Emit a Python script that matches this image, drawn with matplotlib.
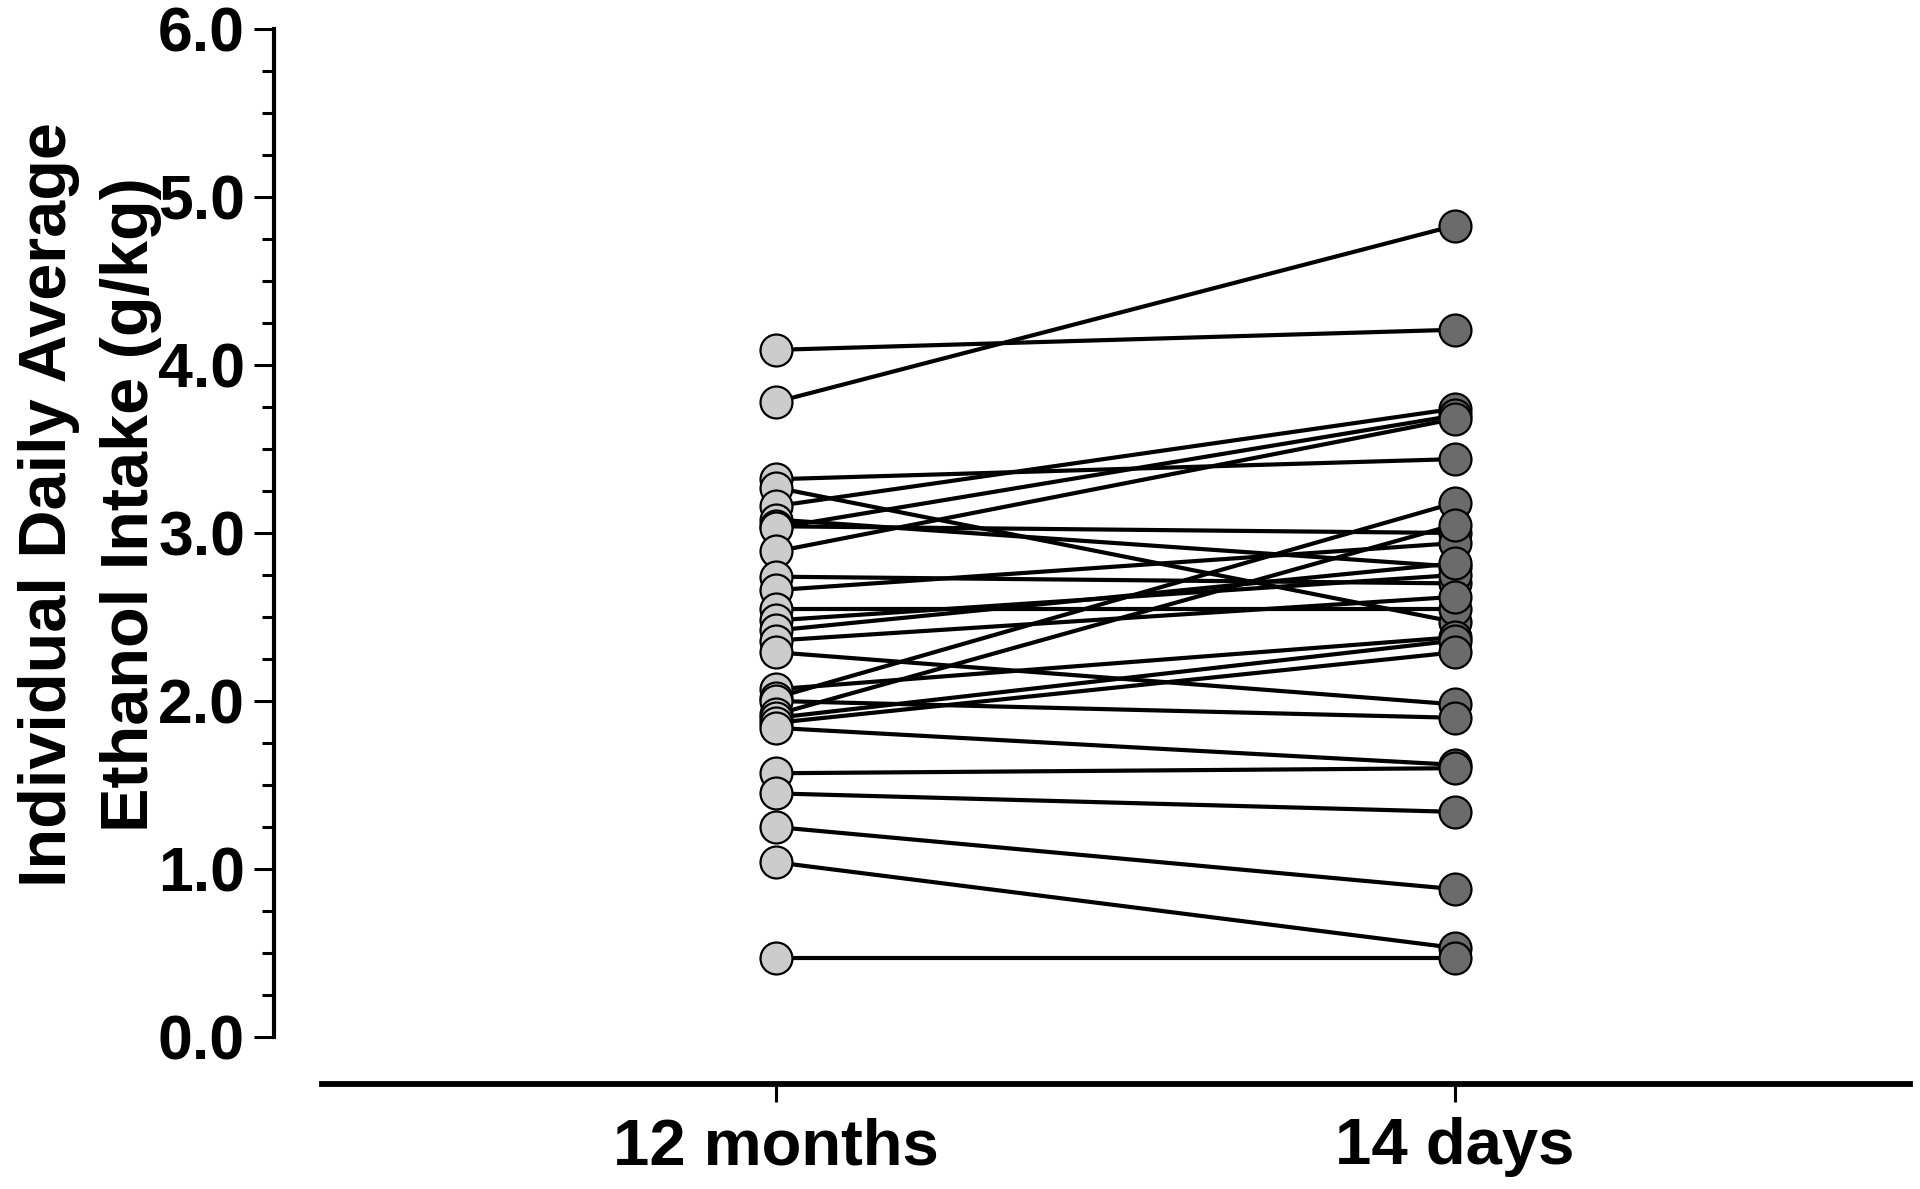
import numpy as np
import matplotlib.pyplot as plt
from matplotlib.ticker import MultipleLocator

groups = ['12 months', '14 days']

# paired values per animal (g/kg)
intake_12mo = [4.09, 3.78, 3.32, 3.27, 3.16, 3.08, 3.04, 3.03, 2.89, 2.74,
               2.66, 2.55, 2.48, 2.42, 2.36, 2.29, 2.07, 2.02, 2.00, 1.92,
               1.90, 1.87, 1.84, 1.57, 1.45, 1.25, 1.04, 0.47]
intake_14d = [4.21, 4.83, 3.44, 2.47, 3.74, 2.80, 3.00, 3.70, 3.68, 2.70,
              2.94, 2.55, 2.75, 2.82, 2.62, 1.98, 2.38, 3.18, 1.90, 3.05,
              2.36, 2.29, 1.62, 1.60, 1.34, 0.88, 0.53, 0.47]

plt.rcParams['font.family'] = ['Liberation Sans', 'DejaVu Sans']
plt.rcParams['font.weight'] = 'bold'

fig = plt.figure(figsize=(19.2, 11.89), dpi=100)
ax = fig.add_axes([322 / 1920, 1 - 1037 / 1189, (1910 - 322) / 1920, (1037 - 29) / 1189])

for a, b in zip(intake_12mo, intake_14d):
    ax.plot([0, 1], [a, b], color='black', lw=3.0, zorder=2, clip_on=False)

ax.plot(np.zeros(len(intake_12mo)), intake_12mo, 'o', ms=23, mfc='#cccccc',
        mec='black', mew=1.6, ls='none', zorder=3, clip_on=False)
ax.plot(np.ones(len(intake_14d)), intake_14d, 'o', ms=23, mfc='#6b6b6b',
        mec='black', mew=1.6, ls='none', zorder=3, clip_on=False)

ax.set_xlim((322 - 776) / 679, (1910 - 776) / 679)
ax.set_ylim(0, 6)

ax.spines['top'].set_visible(False)
ax.spines['right'].set_visible(False)
ax.spines['left'].set_position(('outward', 34.5))
ax.spines['bottom'].set_position(('outward', 33.8))
ax.spines['left'].set_linewidth(3)
ax.spines['bottom'].set_linewidth(4.2)

ax.yaxis.set_minor_locator(MultipleLocator(0.25))
ax.set_yticks(np.arange(0, 7, 1.0))
ax.set_yticklabels([f'{v:.1f}' for v in np.arange(0, 7, 1.0)],
                   fontsize=45, fontweight='bold')
ax.tick_params(axis='y', which='major', length=14.4, width=2.2, pad=6.5)
ax.tick_params(axis='y', which='minor', length=8.6, width=2.2)

ax.set_xticks([0, 1])
ax.set_xticklabels(groups, fontsize=47, fontweight='bold')
ax.tick_params(axis='x', which='major', length=13, width=2.2, pad=11)

fig.text(90 / 1920, 1 - 505 / 1189,
         'Individual Daily Average\nEthanol Intake (g/kg)',
         rotation=90, ha='center', va='center', multialignment='center',
         fontsize=48, fontweight='bold', linespacing=1.4)

fig.savefig('out.png', dpi=100)
